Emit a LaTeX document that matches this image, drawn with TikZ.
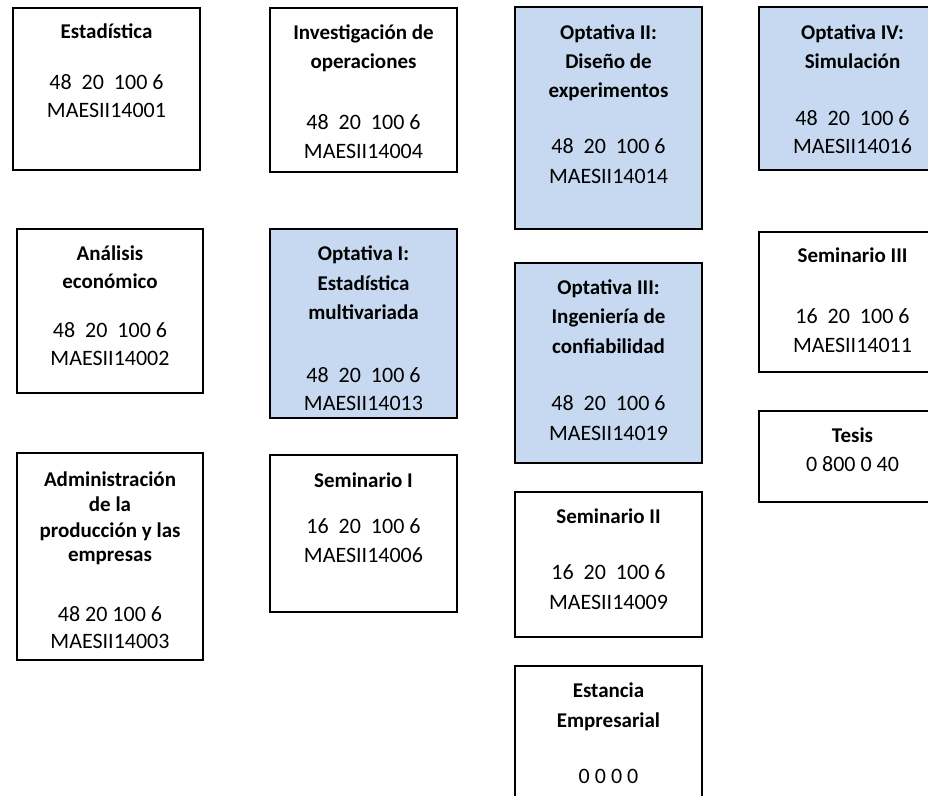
\documentclass[tikz,border=0pt]{standalone}
\usepackage{fontspec}
\setmainfont{Carlito}
\definecolor{optblue}{HTML}{C6D9F1}
\tikzset{
  box/.style={draw=black, line width=1.6pt, inner sep=0pt, rectangle},
  lbl/.style={anchor=base, inner sep=0pt, font=\fontsize{22}{26}\selectfont},
  ttl/.style={anchor=base, inner sep=0pt, font=\fontsize{21}{25}\selectfont\bfseries},
}
% \cbox{name}{x1}{y1}{x2}{y2}{fill}
\newcommand\cbox[6]{%
  \node[box, fill=#6, minimum width={(#4-#2)*1pt}, minimum height={(#5-#3)*1pt}]
    (#1) at ({(#2+#4)/2},{(#3+#5)/2}) {};}
\begin{document}
\begin{tikzpicture}[x=1pt, y=-1pt]
\useasboundingbox (0,0) rectangle (928,795);
\clip (0,0) rectangle (928,795);
% boxes
\cbox{estad}{13}{8}{200}{170}{white}
\cbox{invop}{270}{8}{457}{172}{white}
\cbox{opt2}{515}{7}{702}{229}{optblue}
\cbox{opt4}{759}{7}{946}{170}{optblue}
\cbox{anal}{17}{229}{203}{393}{white}
\cbox{opt1}{270}{229}{457}{418}{optblue}
\cbox{opt3}{515}{263}{702}{463}{optblue}
\cbox{sem3}{759}{232}{946}{372}{white}
\cbox{admin}{17}{453}{203}{660}{white}
\cbox{sem1}{270}{455}{457}{612}{white}
\cbox{tesis}{759}{411}{946}{502}{white}
\cbox{sem2}{515}{492}{702}{637}{white}
\cbox{estan}{515}{666}{702}{815}{white}
% Estadistica
\node[ttl] (estad-t1) at (106.5,38) {Estadística};
\node[lbl] (estad-n) at (106.5,89) {48\ \ 20\ \ 100 6};
\node[lbl] (estad-c) at (106.5,117) {MAESII14001};
% Investigacion
\node[ttl] (invop-t1) at (363.5,39) {Investigación de};
\node[ttl] (invop-t2) at (363.5,68) {operaciones};
\node[lbl] (invop-n) at (363.5,129) {48\ \ 20\ \ 100 6};
\node[lbl] (invop-c) at (363.5,158) {MAESII14004};
% Optativa II
\node[ttl] (opt2-t1) at (608.5,39) {Optativa II:};
\node[ttl] (opt2-t2) at (608.5,68) {Diseño de};
\node[ttl] (opt2-t3) at (608.5,97) {experimentos};
\node[lbl] (opt2-n) at (608.5,153) {48\ \ 20\ \ 100 6};
\node[lbl] (opt2-c) at (608.5,183) {MAESII14014};
% Optativa IV
\node[ttl] (opt4-t1) at (852.5,39) {Optativa IV:};
\node[ttl] (opt4-t2) at (852.5,68) {Simulación};
\node[lbl] (opt4-n) at (852.5,125) {48\ \ 20\ \ 100 6};
\node[lbl] (opt4-c) at (852.5,153) {MAESII14016};
% Analisis
\node[ttl] (anal-t1) at (110,260) {Análisis};
\node[ttl] (anal-t2) at (110,288) {económico};
\node[lbl] (anal-n) at (110,337) {48\ \ 20\ \ 100 6};
\node[lbl] (anal-c) at (110,365) {MAESII14002};
% Optativa I
\node[ttl] (opt1-t1) at (363.5,260) {Optativa I:};
\node[ttl] (opt1-t2) at (363.5,290) {Estadística};
\node[ttl] (opt1-t3) at (363.5,319) {multivariada};
\node[lbl] (opt1-n) at (363.5,382) {48\ \ 20\ \ 100 6};
\node[lbl] (opt1-c) at (363.5,410) {MAESII14013};
% Optativa III
\node[ttl] (opt3-t1) at (608.5,294) {Optativa III:};
\node[ttl] (opt3-t2) at (608.5,323) {Ingeniería de};
\node[ttl] (opt3-t3) at (608.5,353) {confiabilidad};
\node[lbl] (opt3-n) at (608.5,410) {48\ \ 20\ \ 100 6};
\node[lbl] (opt3-c) at (608.5,440) {MAESII14019};
% Seminario III
\node[ttl] (sem3-t1) at (852.5,262) {Seminario III};
\node[lbl] (sem3-n) at (852.5,323) {16\ \ 20\ \ 100 6};
\node[lbl] (sem3-c) at (852.5,352) {MAESII14011};
% Administracion
\node[ttl] (admin-t1) at (110,486) {Administración};
\node[ttl] (admin-t2) at (110,511) {de la};
\node[ttl] (admin-t3) at (110,537) {producción y las};
\node[ttl] (admin-t4) at (110,561) {empresas};
\node[lbl] (admin-n) at (110,621) {48 20 100 6};
\node[lbl] (admin-c) at (110,648) {MAESII14003};
% Seminario I
\node[ttl] (sem1-t1) at (363.5,487) {Seminario I};
\node[lbl] (sem1-n) at (363.5,533) {16\ \ 20\ \ 100 6};
\node[lbl] (sem1-c) at (363.5,562) {MAESII14006};
% Tesis
\node[ttl] (tesis-t1) at (852.5,442) {Tesis};
\node[lbl] (tesis-n) at (852.5,471) {0 800 0 40};
% Seminario II
\node[ttl] (sem2-t1) at (608.5,523) {Seminario II};
\node[lbl] (sem2-n) at (608.5,579) {16\ \ 20\ \ 100 6};
\node[lbl] (sem2-c) at (608.5,609) {MAESII14009};
% Estancia
\node[ttl] (estan-t1) at (608.5,697) {Estancia};
\node[ttl] (estan-t2) at (608.5,727) {Empresarial};
\node[lbl] (estan-n) at (608.5,783) {0 0 0 0};
\end{tikzpicture}
\end{document}
